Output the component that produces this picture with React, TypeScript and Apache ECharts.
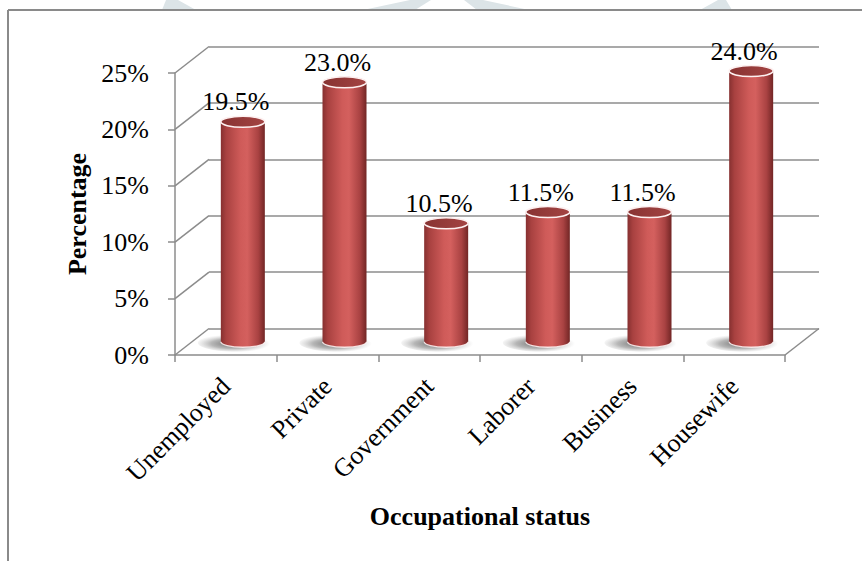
import { useEffect, useRef } from "react";
import * as echarts from "echarts";

// Occupational status distribution (percent of respondents)
const categories = ["Unemployed", "Private", "Government", "Laborer", "Business", "Housewife"];
const percentages = [19.5, 23.0, 10.5, 11.5, 11.5, 24.0];
const yTicks = [0, 5, 10, 15, 20, 25];

// Front plane of the 3D box and the depth offset towards the back wall
const FRONT = { left: 175, top: 73, width: 610, height: 282 };
const DEPTH = { dx: 34, dy: -26.5 };
const SERIF = '"Liberation Serif", "Times New Roman", Times, serif';
const GRID_GREY = "#8c8c8c";

const axisLineStyle = { color: GRID_GREY, width: 1.5 };

function renderConnector(params: any, api: any) {
  const cs = params.coordSys;
  const v = api.value(1);
  const y = api.coord([0, v])[1];
  const children: any[] = [
    {
      type: "line",
      shape: { x1: cs.x, y1: y, x2: cs.x + DEPTH.dx, y2: y + DEPTH.dy },
      style: { stroke: GRID_GREY, lineWidth: 1.5 },
    },
  ];
  if (v === 0) {
    const xr = cs.x + cs.width;
    children.push({
      type: "line",
      shape: { x1: xr, y1: y, x2: xr + DEPTH.dx, y2: y + DEPTH.dy },
      style: { stroke: GRID_GREY, lineWidth: 1.5 },
    });
  }
  return { type: "group", children };
}

function renderCylinder(_params: any, api: any) {
  const idx = api.value(0);
  const val = api.value(1);
  const base = api.coord([idx, 0]);
  const top = api.coord([idx, val]);
  const cx = base[0] + DEPTH.dx / 2;
  const by = base[1] + DEPTH.dy / 2;
  const ty = top[1] + DEPTH.dy / 2;
  const rx = 22;
  const ry = 5.5;

  const body =
    `M${cx - rx},${ty} L${cx - rx},${by} ` +
    `A${rx},${ry} 0 0 0 ${cx + rx},${by} L${cx + rx},${ty} Z`;
  const rim = `M${cx - rx},${by} A${rx},${ry} 0 0 0 ${cx + rx},${by}`;

  return {
    type: "group",
    children: [
      {
        type: "ellipse",
        shape: { cx: cx - 7, cy: by + 1, rx: 38, ry: 9 },
        style: {
          fill: {
            type: "radial",
            x: 0.45,
            y: 0.55,
            r: 0.5,
            colorStops: [
              { offset: 0, color: "rgba(70,70,70,0.8)" },
              { offset: 0.55, color: "rgba(110,110,110,0.5)" },
              { offset: 1, color: "rgba(170,170,170,0)" },
            ],
          },
        },
      },
      {
        type: "path",
        shape: { pathData: body },
        style: {
          fill: {
            type: "linear",
            x: 0,
            y: 0,
            x2: 1,
            y2: 0,
            colorStops: [
              { offset: 0, color: "#863030" },
              { offset: 0.12, color: "#a84140" },
              { offset: 0.45, color: "#cf5b59" },
              { offset: 0.6, color: "#d4605e" },
              { offset: 0.85, color: "#a94242" },
              { offset: 1, color: "#722625" },
            ],
          },
        },
      },
      {
        type: "path",
        shape: { pathData: rim },
        style: { fill: "none", stroke: "rgba(255,245,245,0.85)", lineWidth: 1.3 },
      },
      {
        type: "ellipse",
        shape: { cx, cy: ty, rx, ry },
        style: {
          fill: {
            type: "linear",
            x: 0,
            y: 0,
            x2: 1,
            y2: 0,
            colorStops: [
              { offset: 0, color: "#873332" },
              { offset: 1, color: "#a44443" },
            ],
          },
          stroke: "#fdf0f0",
          lineWidth: 1.6,
        },
      },
      {
        type: "text",
        style: {
          text: `${val.toFixed(1)}%`,
          x: cx - 7,
          y: ty - 20,
          align: "center",
          verticalAlign: "middle",
          textAlign: "center",
          textVerticalAlign: "middle",
          fontSize: 26,
          fontFamily: SERIF,
          fill: "#000",
        },
      },
    ],
  };
}

export default function App() {
  const ref = useRef<HTMLDivElement>(null);

  useEffect(() => {
    const chart = echarts.init(ref.current!, null, { renderer: "svg" });
    const titleStyle = { fontSize: 26, fontWeight: "bold", fontFamily: SERIF, color: "#000" };
    const labelStyle = { fontSize: 26, fontFamily: SERIF, color: "#000" };

    chart.setOption({
      animation: false,
      backgroundColor: "#ffffff",
      graphic: [
        // faint watermark tips above the chart frame
        { type: "polygon", shape: { points: [[162, 10], [166, 0], [178, 0], [196, 10]] }, style: { fill: "#dce4e7" } },
        { type: "polygon", shape: { points: [[363, 10], [410, 0], [431, 0], [415, 10]] }, style: { fill: "#dce4e7" } },
        { type: "polygon", shape: { points: [[464, 0], [483, 0], [529, 10], [477, 10]] }, style: { fill: "#dce4e7" } },
        { type: "polygon", shape: { points: [[700, 10], [718, 0], [726, 0], [732, 10]] }, style: { fill: "#dce4e7" } },
        // chart frame
        { type: "line", shape: { x1: 8, y1: 10, x2: 862, y2: 10 }, style: { stroke: "#8a8a8a", lineWidth: 2 } },
        { type: "line", shape: { x1: 8, y1: 10, x2: 8, y2: 561 }, style: { stroke: "#8a8a8a", lineWidth: 2 } },
      ],
      grid: [
        {
          left: FRONT.left + DEPTH.dx,
          top: FRONT.top + DEPTH.dy,
          width: FRONT.width,
          height: FRONT.height,
        },
        { left: FRONT.left, top: FRONT.top, width: FRONT.width, height: FRONT.height },
      ],
      xAxis: [
        { gridIndex: 0, type: "category", data: categories, show: false },
        {
          gridIndex: 1,
          type: "category",
          data: categories,
          axisLine: { lineStyle: axisLineStyle },
          axisTick: { show: true, length: 7, lineStyle: axisLineStyle },
          axisLabel: { interval: 0, rotate: 45, margin: 27, ...labelStyle },
          name: "Occupational status",
          nameLocation: "middle",
          nameGap: 148,
          nameTextStyle: titleStyle,
        },
      ],
      yAxis: [
        {
          gridIndex: 0,
          type: "value",
          min: 0,
          max: 25,
          interval: 5,
          axisLine: { show: false },
          axisTick: { show: false },
          axisLabel: { show: false },
          splitLine: { show: true, lineStyle: axisLineStyle },
        },
        {
          gridIndex: 1,
          type: "value",
          min: 0,
          max: 25,
          interval: 5,
          axisLine: { show: true, lineStyle: axisLineStyle },
          axisTick: { show: true, length: 7, lineStyle: axisLineStyle },
          axisLabel: { formatter: "{value}%", margin: 26, ...labelStyle },
          splitLine: { show: false },
          name: "Percentage",
          nameLocation: "middle",
          nameGap: 83,
          nameRotate: 90,
          nameTextStyle: titleStyle,
        },
      ],
      series: [
        {
          type: "custom",
          xAxisIndex: 1,
          yAxisIndex: 1,
          data: yTicks.map((v) => [0, v]),
          renderItem: renderConnector,
          silent: true,
        },
        {
          type: "custom",
          xAxisIndex: 1,
          yAxisIndex: 1,
          data: percentages.map((v, i) => [i, v]),
          renderItem: renderCylinder,
          silent: true,
        },
      ],
    });

    return () => chart.dispose();
  }, []);

  return (
    <div
      ref={ref}
      style={{ position: "fixed", left: 0, top: 0, width: 862, height: 561, background: "#fff" }}
    />
  );
}
